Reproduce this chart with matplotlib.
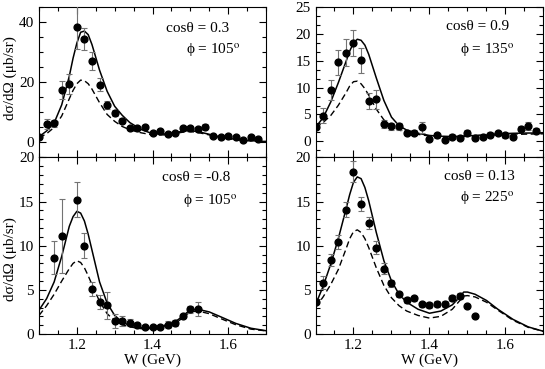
import matplotlib
matplotlib.use("Agg")
import matplotlib.pyplot as plt
from matplotlib.ticker import MultipleLocator

plt.rcParams['font.family'] = ['Liberation Serif', 'DejaVu Serif']
plt.rcParams['mathtext.fontset'] = 'stix'

# model curves, common W grid (GeV)
w_curve = [1.10, 1.12, 1.14, 1.16, 1.18, 1.19, 1.20, 1.21, 1.22, 1.23, 1.24, 1.26, 1.28, 1.30,
           1.32, 1.34, 1.37, 1.40, 1.43, 1.46, 1.48, 1.49, 1.50, 1.52, 1.55, 1.58, 1.62, 1.66, 1.70]

# top left: cos = 0.3, phi = 105
tl_w = [1.10, 1.12, 1.14, 1.16, 1.18, 1.20, 1.22, 1.24, 1.26, 1.28, 1.30, 1.32, 1.34, 1.36, 1.38,
        1.40, 1.42, 1.44, 1.46, 1.48, 1.50, 1.52, 1.54, 1.56, 1.58, 1.60, 1.62, 1.64, 1.66, 1.68]
tl_val = [1.7, 6.2, 6.3, 17.3, 19.4, 38.2, 34.4, 27.1, 19.2, 12.3, 9.7, 7.2, 4.7, 4.8, 5.1,
          3.0, 3.9, 2.7, 3.3, 4.7, 4.9, 4.4, 5.2, 2.2, 1.8, 2.2, 1.8, 0.9, 1.8, 1.2]
tl_err = [0.5, 1.7, 1.3, 3.0, 3.2, 7.0, 3.6, 3.0, 2.2, 1.3, 1.0, 0.8, 0.7, 0.7, 0.7,
          0.6, 0.7, 0.6, 0.6, 0.7, 0.7, 0.7, 0.8, 0.5, 0.5, 0.5, 0.5, 0.4, 0.5, 0.5]
tl_full = [1.9, 3.8, 6.5, 12.5, 22.0, 28.0, 33.0, 36.6, 37.0, 35.8, 32.5, 24.0, 17.0, 12.0,
           9.0, 6.6, 4.3, 2.9, 2.8, 3.3, 3.7, 3.9, 3.9, 3.6, 2.7, 1.8, 1.0, 0.6, 0.3]
tl_bg = [1.5, 2.9, 5.0, 8.8, 14.5, 17.3, 19.5, 20.7, 20.5, 19.5, 17.7, 13.2, 9.3, 7.0,
         5.3, 4.2, 3.2, 2.5, 2.5, 3.0, 3.4, 3.6, 3.6, 3.3, 2.5, 1.6, 0.9, 0.5, 0.3]

# top right: cos = 0.9, phi = 135
tr_w = tl_w
tr_val = [2.7, 4.8, 9.6, 14.7, 16.5, 18.3, 15.1, 7.45, 7.8, 3.2, 2.8, 2.8, 1.6, 1.6, 2.6,
          0.45, 1.1, 0.3, 0.9, 0.6, 1.6, 0.6, 0.9, 1.25, 1.6, 1.1, 0.9, 2.3, 2.9, 1.9]
tr_err = [0.4, 1.4, 1.9, 2.3, 2.5, 2.4, 2.3, 1.5, 1.8, 0.7, 0.6, 0.6, 0.5, 0.5, 1.0,
          0.3, 0.5, 0.3, 0.4, 0.3, 0.5, 0.3, 0.4, 0.4, 0.4, 0.4, 0.4, 0.5, 0.7, 0.5]
tr_full = [2.6, 4.4, 7.3, 10.9, 14.8, 16.8, 18.3, 19.0, 18.8, 17.9, 16.2, 11.8, 7.6, 4.5,
           2.9, 2.1, 1.5, 1.1, 0.95, 0.9, 0.95, 1.0, 1.0, 1.1, 1.25, 1.4, 1.5, 1.55, 1.55]
tr_bg = [2.5, 3.5, 4.8, 6.7, 9.0, 10.3, 11.1, 11.2, 10.7, 9.8, 8.6, 6.0, 4.0, 2.8,
         2.1, 1.7, 1.3, 1.0, 0.9, 0.85, 0.9, 0.9, 0.95, 1.0, 1.1, 1.2, 1.3, 1.35, 1.4]

# bottom left: cos = -0.8, phi = 105
bl_w = [1.14, 1.16, 1.20, 1.22, 1.24, 1.26, 1.28, 1.30, 1.32, 1.34, 1.36, 1.38, 1.40, 1.42,
        1.44, 1.46, 1.48, 1.50, 1.52]
bl_val = [8.65, 11.15, 15.2, 10.0, 5.07, 3.67, 3.25, 1.5, 1.45, 1.25, 1.0, 0.76, 0.83, 0.83,
          1.06, 1.25, 2.04, 2.8, 2.87]
bl_err = [1.9, 4.2, 2.0, 1.4, 0.8, 0.8, 1.5, 0.8, 0.6, 0.4, 0.2, 0.2, 0.2, 0.2,
          0.4, 0.3, 0.2, 0.4, 0.8]
bl_full = [2.7, 4.0, 5.9, 8.8, 12.2, 13.3, 13.9, 13.7, 12.8, 11.3, 9.5, 5.9, 3.5, 2.1,
           1.35, 0.95, 0.7, 0.72, 0.95, 1.4, 2.0, 2.4, 2.7, 2.8, 2.5, 1.95, 1.2, 0.65, 0.37]
bl_bg = [2.1, 3.2, 4.5, 6.0, 7.4, 8.0, 8.3, 8.1, 7.5, 6.6, 5.6, 3.7, 2.3, 1.5,
         1.05, 0.8, 0.6, 0.62, 0.85, 1.25, 1.8, 2.2, 2.5, 2.6, 2.3, 1.75, 1.05, 0.55, 0.35]

# bottom right: cos = 0.13, phi = 225
br_w = [1.10, 1.12, 1.14, 1.16, 1.18, 1.20, 1.22, 1.24, 1.26, 1.28, 1.30, 1.32, 1.34, 1.36,
        1.38, 1.40, 1.42, 1.44, 1.46, 1.48, 1.50, 1.52]
br_val = [3.66, 5.82, 8.39, 10.47, 14.1, 18.4, 14.7, 12.6, 9.8, 7.4, 5.75, 4.5, 3.85, 4.05,
          3.36, 3.29, 3.4, 3.4, 4.08, 4.3, 3.17, 2.08]
br_err = [0.3, 0.7, 0.7, 0.8, 0.8, 1.2, 0.8, 0.7, 0.7, 0.6, 0.4, 0.3, 0.3, 0.3,
          0.3, 0.3, 0.3, 0.3, 0.3, 0.3, 0.0, 0.0]
br_full = [3.3, 5.4, 7.9, 10.8, 14.1, 15.8, 17.2, 17.8, 17.6, 16.6, 15.1, 11.5, 8.3, 6.0,
           4.5, 3.6, 2.8, 2.35, 2.6, 3.3, 4.2, 4.75, 4.75, 4.5, 3.8, 2.8, 1.65, 0.8, 0.3]
br_bg = [3.0, 4.2, 5.6, 7.3, 9.6, 10.8, 11.6, 11.8, 11.5, 10.8, 9.8, 7.5, 5.5, 4.1,
         3.2, 2.6, 2.1, 1.8, 2.0, 2.8, 3.8, 4.3, 4.35, 4.2, 3.6, 2.7, 1.55, 0.75, 0.3]

labels = [("cos\u03b8 = 0.3", "105"), ("cos\u03b8 = 0.9", "135"),
          ("cos\u03b8 = -0.8", "105"), ("cos\u03b8 = 0.13", "225")]

FS = 11


def draw_panel(ax, w, val, err, full, bg, label, txt_pos):
    ax.plot(w_curve, full, color='black', lw=1.1, zorder=2)
    ax.plot(w_curve, bg, color='black', lw=1.0, dashes=(4.5, 2.5), zorder=2)
    ax.errorbar(w, val, yerr=err, fmt='none', ecolor='0.45', elinewidth=0.8,
                capsize=2.2, capthick=0.8, zorder=3)
    ax.plot(w, val, 'o', color='black', ms=4.9, zorder=4)
    (x1, y1), (x2, y2) = txt_pos
    ax.text(x1, y1, label[0], transform=ax.transAxes, ha='center', va='center', fontsize=FS)
    ax.text(x2, y2, "\u03d5 = " + label[1] + "$^\\mathrm{o}$", transform=ax.transAxes,
            ha='center', va='center', fontsize=FS)
    ax.set_xlim(1.1, 1.7)
    ax.xaxis.set_major_locator(MultipleLocator(0.2))
    ax.xaxis.set_minor_locator(MultipleLocator(0.05))
    ax.tick_params(which='both', direction='in', top=True, right=True, labelsize=FS)
    ax.tick_params(which='major', length=5, width=0.8)
    ax.tick_params(which='minor', length=3, width=0.8)
    for s in ax.spines.values():
        s.set_linewidth(0.8)


fig = plt.figure(figsize=(5.45, 3.69), dpi=100)
ax_tl = fig.add_axes([0.0716, 0.5732, 0.4165, 0.4079])
ax_tr = fig.add_axes([0.5789, 0.5732, 0.4183, 0.4079])
ax_bl = fig.add_axes([0.0716, 0.0949, 0.4165, 0.4783])
ax_br = fig.add_axes([0.5789, 0.0949, 0.4183, 0.4783])

draw_panel(ax_tl, tl_w, tl_val, tl_err, tl_full, tl_bg, labels[0], [(0.700, 0.860), (0.767, 0.714)])
draw_panel(ax_tr, tr_w, tr_val, tr_err, tr_full, tr_bg, labels[1], [(0.711, 0.867), (0.754, 0.714)])
draw_panel(ax_bl, bl_w, bl_val, bl_err, bl_full, bl_bg, labels[2], [(0.694, 0.888), (0.753, 0.750)])
draw_panel(ax_br, br_w, br_val, br_err, br_full, br_bg, labels[3], [(0.717, 0.890), (0.754, 0.771)])

ax_tl.set_ylim(-5, 45)
ax_tl.yaxis.set_major_locator(MultipleLocator(20))
ax_tl.yaxis.set_minor_locator(MultipleLocator(5))
ax_tr.set_ylim(-3, 25)
ax_tr.yaxis.set_major_locator(MultipleLocator(5))
ax_tr.yaxis.set_minor_locator(MultipleLocator(5 / 3))
for ax in (ax_bl, ax_br):
    ax.set_ylim(0, 20)
    ax.yaxis.set_major_locator(MultipleLocator(5))
    ax.yaxis.set_minor_locator(MultipleLocator(1))
    ax.set_xlabel("W (GeV)", fontsize=FS, labelpad=1)
for ax in (ax_tl, ax_tr):
    ax.tick_params(labelbottom=False)

ax_tl.set_ylabel("d\u03c3/d\u03a9 (\u03bcb/sr)", fontsize=FS)
ax_tl.yaxis.set_label_coords(-0.095, 0.53)
ax_bl.set_ylabel("d\u03c3/d\u03a9 (\u03bcb/sr)", fontsize=FS)
ax_bl.yaxis.set_label_coords(-0.095, 0.425)

fig.savefig("out.png", dpi=100)
